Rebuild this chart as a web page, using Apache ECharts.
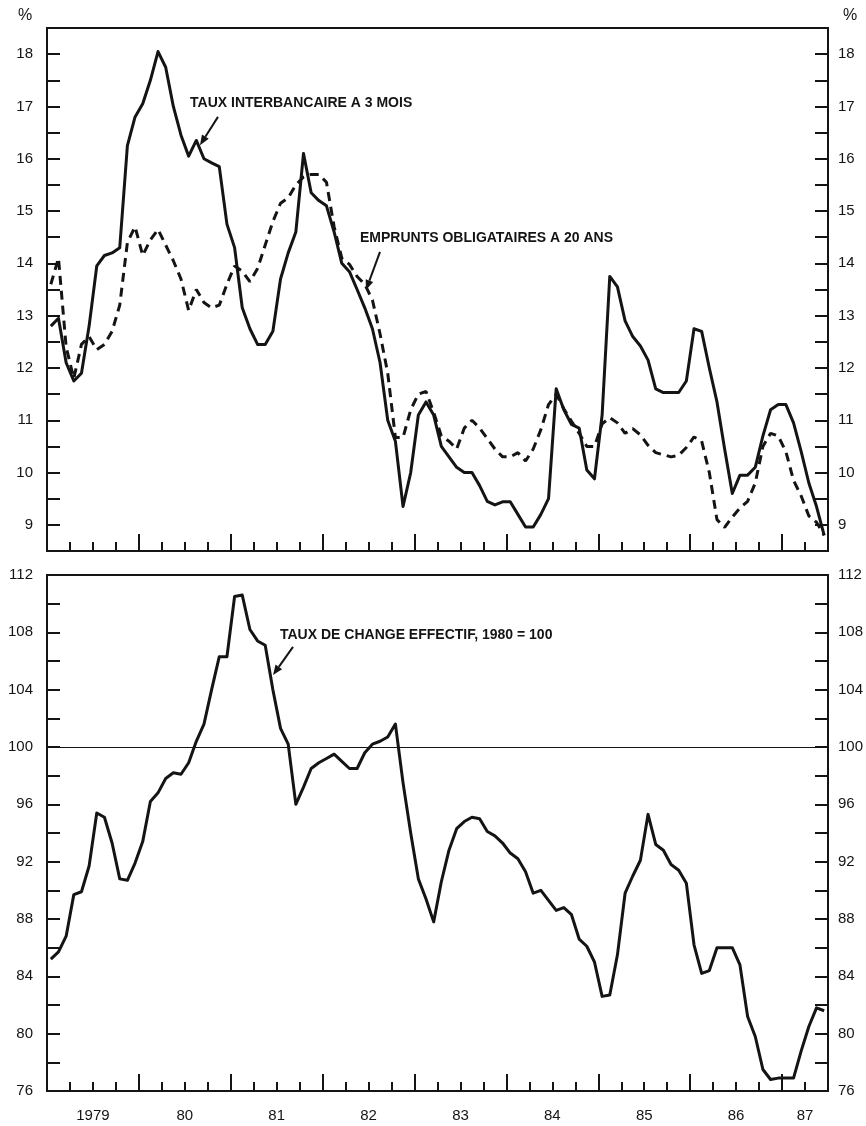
<!DOCTYPE html>
<html>
<head>
<meta charset="utf-8">
<script src="https://cdn.jsdelivr.net/npm/echarts@6/dist/echarts.min.js"></script>
<style>
  html, body { margin: 0; padding: 0; background: #fff; }
  #chart { width: 866px; height: 1126px; }
</style>
</head>
<body>
<div id="chart"></div>
<script>
// Monthly observations, January 1979 to June 1987 (one value per month)
const interbank3m = [
  12.8, 12.95, 12.1, 11.75, 11.9, 12.8, 13.95, 14.15, 14.2, 14.3, 16.25, 16.8,
  17.05, 17.5, 18.05, 17.75, 17.0, 16.45, 16.05, 16.35, 16.0, 15.92, 15.85, 14.75,
  14.3, 13.15, 12.75, 12.45, 12.45, 12.7, 13.7, 14.2, 14.6, 16.1, 15.35, 15.2,
  15.1, 14.6, 14.0, 13.84, 13.5, 13.15, 12.75, 12.1, 11.0, 10.6, 9.35, 10.0,
  11.1, 11.35, 11.1, 10.5, 10.3, 10.1, 10.0, 10.0, 9.75, 9.45, 9.38, 9.44,
  9.44, 9.2, 8.96, 8.96, 9.2, 9.5, 11.6, 11.2, 10.92, 10.85, 10.05, 9.88,
  11.1, 13.75, 13.55, 12.9, 12.6, 12.42, 12.15, 11.6, 11.53, 11.53, 11.53, 11.75,
  12.75, 12.7, 12.0, 11.35, 10.45, 9.6, 9.95, 9.95, 10.1, 10.7, 11.2, 11.3,
  11.3, 10.95, 10.4, 9.8, 9.35, 8.8
];
const bonds20y = [
  13.6, 14.1, 12.4, 11.8, 12.45, 12.6, 12.35, 12.45, 12.7, 13.2, 14.4, 14.7,
  14.15, 14.45, 14.65, 14.35, 14.05, 13.7, 13.1, 13.5, 13.25, 13.15, 13.2, 13.6,
  13.95, 13.85, 13.65, 13.9, 14.35, 14.8, 15.15, 15.25, 15.5, 15.65, 15.7, 15.7,
  15.55, 14.7, 14.1, 13.98, 13.75, 13.6, 13.3, 12.65, 11.9, 10.67, 10.67, 11.2,
  11.5, 11.55, 11.15, 10.7, 10.6, 10.45, 10.85, 11.0, 10.85, 10.65, 10.45, 10.3,
  10.3, 10.38, 10.22, 10.45, 10.82, 11.3, 11.5, 11.22, 10.98, 10.75, 10.5, 10.5,
  10.93, 11.05, 10.95, 10.75, 10.84, 10.72, 10.52, 10.38, 10.34, 10.3, 10.33, 10.48,
  10.68, 10.6, 10.0, 9.1, 8.95, 9.15, 9.32, 9.45, 9.8, 10.5, 10.75, 10.7,
  10.4, 9.85, 9.55, 9.17, 9.05, 8.8
];
const effectiveRate = [
  85.2, 85.7, 86.8, 89.7, 89.9, 91.7, 95.4, 95.1, 93.3, 90.8, 90.7, 91.9,
  93.4, 96.2, 96.8, 97.8, 98.2, 98.1, 98.9, 100.4, 101.6, 104.0, 106.3, 106.3,
  110.5, 110.6, 108.2, 107.4, 107.1, 104.0, 101.3, 100.2, 96.0, 97.2, 98.5, 98.9,
  99.2, 99.5, 99.0, 98.5, 98.5, 99.6, 100.2, 100.4, 100.7, 101.6, 97.5, 94.0,
  90.8, 89.4, 87.8, 90.6, 92.8, 94.3, 94.8, 95.1, 95.0, 94.1, 93.8, 93.3,
  92.6, 92.2, 91.3, 89.8, 90.0, 89.3, 88.6, 88.8, 88.3, 86.6, 86.1, 85.0,
  82.6, 82.7, 85.5, 89.8, 91.0, 92.1, 95.3, 93.2, 92.8, 91.8, 91.4, 90.5,
  86.2, 84.2, 84.4, 86.0, 86.0, 86.0, 84.8, 81.2, 79.8, 77.5, 76.8, 76.9,
  76.9, 76.9, 78.8, 80.5, 81.8, 81.6
];

// Time axis in months since January 1979
const yearStarts = [0, 12, 24, 36, 48, 60, 72, 84, 96];
const yearLabels = ['1979', '80', '81', '82', '83', '84', '85', '86', '87'];
const yearLabelMonths = [6, 18, 30, 42, 54, 66, 78, 90, 99];

// Annotation texts with their arrows, in axis units
const notes = [
  { grid: 0, text: 'TAUX INTERBANCAIRE A 3 MOIS', at: [18.68, 17.07], from: [22.33, 16.80], to: [19.98, 16.26] },
  { grid: 0, text: 'EMPRUNTS OBLIGATAIRES A 20 ANS', at: [40.88, 14.48], from: [43.49, 14.22], to: [41.66, 13.49] },
  { grid: 1, text: 'TAUX DE CHANGE EFFECTIF, 1980 = 100', at: [30.43, 107.81], from: [32.13, 106.98], to: [29.52, 105.02] }
];

const INK = '#141414';
const tickFont = "'Liberation Sans', Arial, Helvetica, sans-serif";
const noteFont = "'Liberation Sans', Arial, Helvetica, sans-serif";

const toPoints = arr => arr.map((v, i) => [i + 0.5, v]);

function xAxesFor(gridIndex, withLabels) {
  return [
    {
      gridIndex, type: 'value', min: 0, max: 102, interval: 12, position: 'bottom',
      axisLine: { show: true, onZero: false, lineStyle: { color: INK, width: 2 } },
      axisTick: { show: true, inside: true, length: 17, customValues: yearStarts, lineStyle: { color: INK, width: 2 } },
      axisLabel: { show: false },
      splitLine: { show: false }
    },
    {
      gridIndex, type: 'value', min: 0, max: 102, interval: 3, position: 'bottom',
      axisLine: { show: false, onZero: false },
      axisTick: { show: true, inside: true, length: 9, lineStyle: { color: INK, width: 2 } },
      axisLabel: {
        show: withLabels, margin: 17, color: INK, fontSize: 15, fontFamily: tickFont,
        formatter: v => {
          const r = Math.round(v);
          if (Math.abs(v - r) > 1e-6) return '';
          const k = yearLabelMonths.indexOf(r);
          return k >= 0 ? yearLabels[k] : '';
        }
      },
      splitLine: { show: false }
    }
  ];
}

function yAxisFor(gridIndex, position, min, max, interval, labelStep) {
  return {
    gridIndex, type: 'value', position, min, max, interval,
    axisLine: { show: true, onZero: false, lineStyle: { color: INK, width: 2 } },
    axisTick: { show: true, inside: true, length: 13, lineStyle: { color: INK, width: 2 } },
    axisLabel: {
      margin: position === 'left' ? 14 : 10, color: INK, fontSize: 15, fontFamily: tickFont,
      formatter: v => {
        const q = v / labelStep;
        if (Math.abs(q - Math.round(q)) > 1e-6) return '';
        if (v <= min + 1e-6 && min % labelStep !== 0) return '';
        if (v >= max - 1e-6 && max % labelStep !== 0) return '';
        return String(Math.round(v));
      }
    },
    splitLine: { show: false }
  };
}

const chart = echarts.init(document.getElementById('chart'), null, { renderer: 'canvas' });

const option = {
  animation: false,
  backgroundColor: '#ffffff',
  grid: [
    { left: 47, right: 38, top: 28, height: 523, containLabel: false, outerBoundsMode: 'none',
      show: true, borderColor: INK, borderWidth: 2, backgroundColor: 'transparent' },
    { left: 47, right: 38, top: 575, height: 516, containLabel: false, outerBoundsMode: 'none',
      show: true, borderColor: INK, borderWidth: 2, backgroundColor: 'transparent' }
  ],
  xAxis: [...xAxesFor(0, false), ...xAxesFor(1, true)],
  yAxis: [
    yAxisFor(0, 'left', 8.5, 18.5, 0.5, 1),
    yAxisFor(0, 'right', 8.5, 18.5, 0.5, 1),
    yAxisFor(1, 'left', 76, 112, 2, 4),
    yAxisFor(1, 'right', 76, 112, 2, 4)
  ],
  series: [
    {
      name: 'EMPRUNTS OBLIGATAIRES A 20 ANS', type: 'line', xAxisIndex: 0, yAxisIndex: 0,
      data: toPoints(bonds20y), showSymbol: false, smooth: false,
      lineStyle: { color: INK, width: 3, type: [9, 6], cap: 'butt' }, z: 3
    },
    {
      name: 'TAUX INTERBANCAIRE A 3 MOIS', type: 'line', xAxisIndex: 0, yAxisIndex: 0,
      data: toPoints(interbank3m), showSymbol: false, smooth: false,
      lineStyle: { color: INK, width: 3, join: 'round' }, z: 4
    },
    {
      name: 'TAUX DE CHANGE EFFECTIF', type: 'line', xAxisIndex: 2, yAxisIndex: 2,
      data: toPoints(effectiveRate), showSymbol: false, smooth: false,
      lineStyle: { color: INK, width: 3, join: 'round' }, z: 4,
      markLine: {
        silent: true, symbol: ['none', 'none'], label: { show: false },
        lineStyle: { color: INK, width: 1.2, type: 'solid' },
        data: [{ yAxis: 100 }]
      }
    }
  ]
};
chart.setOption(option);

// Annotation texts and arrows, placed from axis units
const graphics = [
  { type: 'text', x: 25, y: 16, style: { text: '%', textAlign: 'center', textVerticalAlign: 'middle', fontSize: 16, fontFamily: tickFont, fill: INK } },
  { type: 'text', x: 850, y: 16, style: { text: '%', textAlign: 'center', textVerticalAlign: 'middle', fontSize: 16, fontFamily: tickFont, fill: INK } }
];
notes.forEach(n => {
  const p = chart.convertToPixel({ gridIndex: n.grid }, n.at);
  const a = chart.convertToPixel({ gridIndex: n.grid }, n.from);
  const b = chart.convertToPixel({ gridIndex: n.grid }, n.to);
  graphics.push({
    type: 'text', x: p[0], y: p[1], z: 10,
    style: { text: n.text, textAlign: 'left', textVerticalAlign: 'middle', fontSize: 14, fontWeight: 'bold', fontFamily: noteFont, fill: INK }
  });
  const dx = b[0] - a[0], dy = b[1] - a[1];
  const len = Math.sqrt(dx * dx + dy * dy);
  const ux = dx / len, uy = dy / len;
  const headLen = 10, headHalf = 4;
  const baseX = b[0] - ux * headLen, baseY = b[1] - uy * headLen;
  graphics.push({
    type: 'line', z: 10,
    shape: { x1: a[0], y1: a[1], x2: baseX, y2: baseY },
    style: { stroke: INK, lineWidth: 2 }
  });
  graphics.push({
    type: 'polygon', z: 10,
    shape: { points: [[b[0], b[1]], [baseX - uy * headHalf, baseY + ux * headHalf], [baseX + uy * headHalf, baseY - ux * headHalf]] },
    style: { fill: INK }
  });
});
chart.setOption({ graphic: graphics });
</script>
</body>
</html>
